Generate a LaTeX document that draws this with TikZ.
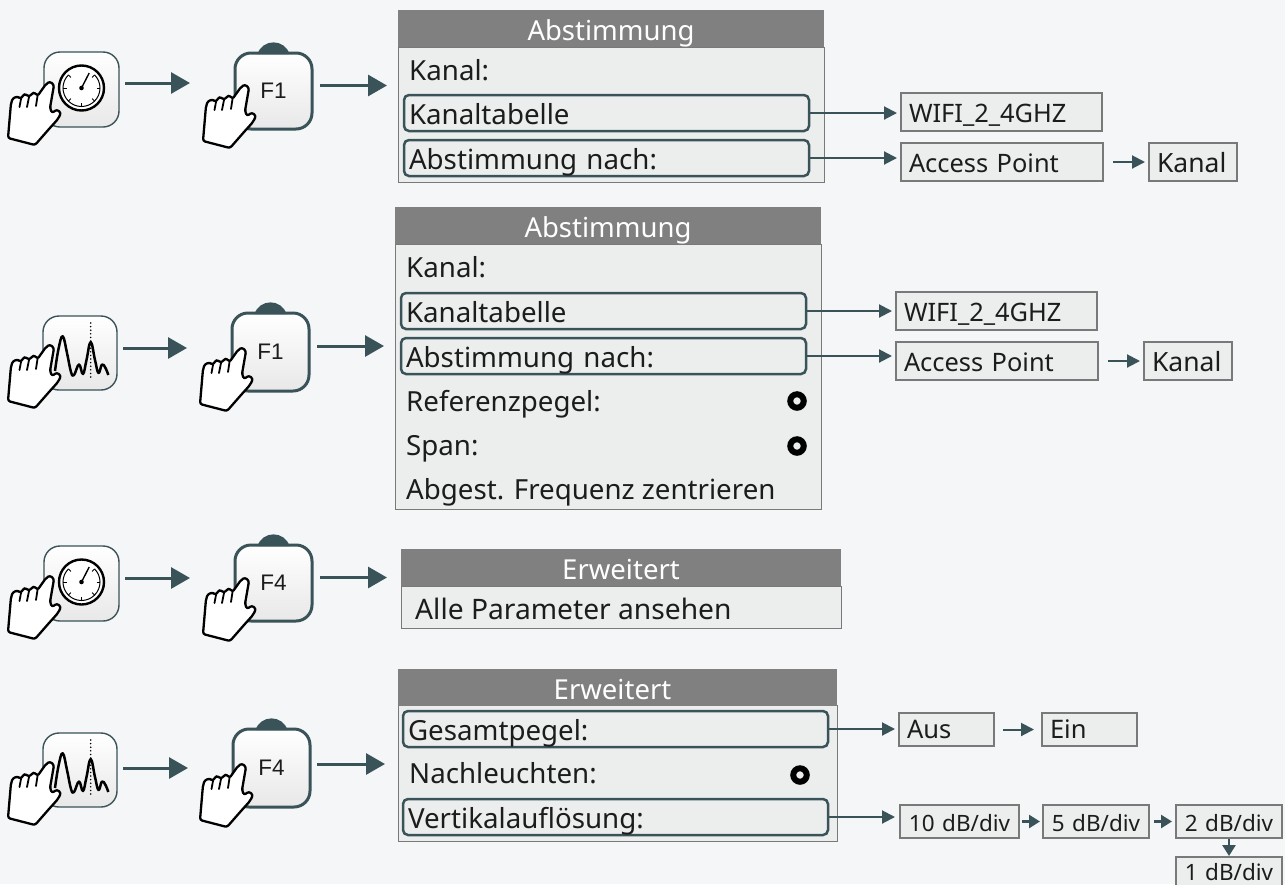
\documentclass[tikz,border=0pt]{standalone}
\usepackage{fontspec}
\setmainfont{Noto Sans}
\newfontfamily\keyfont{Liberation Sans}
\usetikzlibrary{arrows.meta,positioning,calc}
\definecolor{bgc}{HTML}{F4F6F8}
\definecolor{teal}{HTML}{3A5359}
\definecolor{panelc}{HTML}{ECEEEE}
\definecolor{headc}{HTML}{808080}
\definecolor{edgec}{HTML}{787A7A}
\definecolor{inkc}{HTML}{1C1C1C}
\tikzset{
  bigarrow/.style={draw=teal,line width=3pt,-{Triangle[length=19pt,width=21pt]}},
  smallarrow/.style={draw=teal,line width=2pt,-{Triangle[length=13pt,width=13pt]}},
  tinyarrow/.style={draw=teal,line width=2.5pt,-{Triangle[length=11pt,width=13pt]}},
  keybase/.style={anchor=north west,inner sep=0pt,outer sep=0pt,rounded corners=16pt,top color=white,bottom color=white!91!black,draw=teal},
  softkey/.style={keybase,line width=1.4pt,minimum width=75pt,minimum height=75pt},
  hardkey/.style={keybase,line width=3pt,minimum width=77pt,minimum height=76pt,text=inkc,font=\keyfont\fontsize{22.5}{24}\selectfont},
  panelbody/.style={anchor=north west,inner sep=0pt,outer sep=0pt,fill=panelc,draw=edgec,line width=1pt},
  panelhead/.style={anchor=north west,inner sep=0pt,outer sep=0pt,fill=headc,text=white,align=center,text height=30pt,text depth=7pt,font=\fontsize{27.5}{30}\selectfont},
  rowbox/.style={anchor=north west,inner xsep=5pt,inner ysep=0pt,outer sep=0pt,draw=teal,line width=2.5pt,rounded corners=5pt,align=left,text=inkc,text height=29pt,text depth=7pt,font=\fontsize{27.7}{30}\selectfont},
  rowtext/.style={anchor=base west,inner sep=0pt,text=inkc,font=\fontsize{27.7}{30}\selectfont},
  valuebox/.style={anchor=north west,inner xsep=8pt,inner ysep=0pt,outer sep=0pt,fill=panelc,draw=edgec,line width=1.2pt,align=left,text=inkc,text height=29pt,text depth=9pt,font=\fontsize{25.4}{28}\selectfont},
  lowbox/.style={valuebox,text height=25pt,text depth=8pt,font=\fontsize{25.5}{28}\selectfont},
  dbbox/.style={valuebox,inner xsep=3pt,align=center,text height=26pt,text depth=7pt,font=\fontsize{22.5}{24}\selectfont},
  radio/.style={circle,inner sep=0pt,outer sep=0pt,minimum size=13.5pt,draw=black,line width=6pt,fill=panelc}
}
\newcommand{\handat}[2]{%
  \begin{scope}[shift={(#1,#2)}]
    \draw[fill=white,draw=black,line width=2.3pt,rounded corners=2.2pt,line join=round]
      (35,115) -- (8,108) -- (11,73) -- (13,68) -- (18,66.5) -- (21,69) -- (23,65) -- (26,64) -- (29,67) -- (32,63.5) -- (35,62.5) -- (37.5,66) -- (46,54) -- (50,51.5) -- (54,55) -- (50,78) -- (52,83) -- (57,79.5) -- (61,83) -- (58,89) -- (49,99) -- cycle;
    \draw[black,line width=1.8pt,line cap=round] (21,69) -- (19.5,77) (29,67) -- (27,77) (37.5,66) -- (36,76);
  \end{scope}}
\newcommand{\gaugeat}[2]{%
  \begin{scope}[shift={(#1,#2)}]
    \draw[fill=white,draw=black,line width=2.4pt] (0,0) circle[radius=22.5];
    \draw[black,line width=1pt] (225:18.5) arc[start angle=225,end angle=-45,radius=18.5];
    \foreach \a in {225,180,135,90,45,0,-45}{\draw[black,line width=1pt] (\a:18.5) -- (\a:15);}
    \draw[black,line width=1.4pt] (0,0) -- (7.7,-15);
    \fill[black] (0,0) circle[radius=2.3];
  \end{scope}}
\newcommand{\spectrumat}[2]{%
  \begin{scope}[shift={(#1,#2)}]
    \draw[black,line width=1.7pt,line cap=round,dash pattern=on 0pt off 3.6pt] (47.7,7) -- (47.7,64);
    \draw[black,line width=2.5pt,line join=round] plot[smooth,tension=.7] coordinates {(12,55) (15.5,33) (19.7,20.3) (24,37) (28,56) (31,59) (36,48.5) (40,58) (43.5,44) (47.7,26) (52,44) (55.5,57) (59,48.5) (62.5,52) (65.3,59)};
  \end{scope}}
\newcommand{\bumpon}[1]{%
  \fill[teal] ([xshift=-16pt,yshift=-1pt]#1.north) .. controls ([xshift=-11pt,yshift=14.5pt]#1.north) and ([xshift=11pt,yshift=14.5pt]#1.north) .. ([xshift=16pt,yshift=-1pt]#1.north) -- cycle;}
\begin{document}
\begin{tikzpicture}[x=1pt,y=-1pt]
\useasboundingbox (0,0) rectangle (1285,884);
\fill[bgc] (0,0) rectangle (1285,884);
\clip (0,0) rectangle (1285,884);

% ---------- group 1
\node[softkey] (ka) at (44,52) {};
\gaugeat{81.5}{88}
\handat{0}{30}
\node[hardkey] (kb) at (235,53) {F1};
\bumpon{kb}
\handat{195}{33}
\node[panelbody,minimum width=426pt,minimum height=135pt] (pa) at (398,47) {};
\node[panelhead,minimum width=426pt,text width=426pt] (ha) at (398,10) {Abstimmung};
\node[rowtext] (ta) at (409,80) {Kanal:};
\node[rowbox,text width=395pt] (ra) at (404,95) {Kanaltabelle};
\node[rowbox,text width=395pt] (rb) at (404,140) {Abstimmung nach:};
\node[valuebox,text width=185pt] (va) at (901,93) {WIFI\_2\_4GHZ};
\node[valuebox,text width=186pt] (vb) at (901,143) {Access Point};
\node[valuebox,text width=72pt,font=\fontsize{26.5}{28}\selectfont] (vc) at (1149,143) {Kanal};
\draw[bigarrow,shorten <=6pt,shorten >=45pt] ([yshift=6.5pt]ka.east) -- ([yshift=6.5pt]ka.east -| kb.west);
\draw[bigarrow,shorten <=8pt,shorten >=11pt] ([yshift=5.5pt]kb.east) -- ([yshift=5.5pt]kb.east -| pa.west);
\draw[smallarrow,shorten >=4pt] (ra.east) -- (ra.east -| va.west);
\draw[smallarrow,shorten >=4pt] (rb.east) -- (rb.east -| vb.west);
\draw[smallarrow,shorten <=10pt,shorten >=4pt] (vb.east) -- (vc.west);

% ---------- group 2
\node[softkey,minimum width=74pt,minimum height=74pt] (kc) at (43,316) {};
\spectrumat{43}{316}
\handat{0}{293}
\node[hardkey,minimum height=78pt] (kd) at (232,313) {F1};
\bumpon{kd}
\handat{192}{296}
\node[panelbody,minimum width=426pt,minimum height=265pt] (pb) at (395,244) {};
\node[panelhead,minimum width=426pt,text width=426pt] (hb) at (395,207) {Abstimmung};
\node[rowtext] (tb) at (406,277) {Kanal:};
\node[rowbox,text width=395pt] (rc) at (401,293) {Kanaltabelle};
\node[rowbox,text width=395pt] (rd) at (401,338) {Abstimmung nach:};
\node[rowtext] (tc) at (406,411) {Referenzpegel:};
\node[rowtext] (td) at (406,455) {Span:};
\node[rowtext] (te) at (406,499) {Abgest. Frequenz zentrieren};
\node[radio] (oa) at (797,401) {};
\node[radio] (ob) at (797,446) {};
\node[valuebox,text width=185pt] (vd) at (896,292) {WIFI\_2\_4GHZ};
\node[valuebox,text width=186pt] (ve) at (896,342) {Access Point};
\node[valuebox,text width=72pt,font=\fontsize{26.5}{28}\selectfont] (vf) at (1144,342) {Kanal};
\draw[bigarrow,shorten <=6pt,shorten >=45pt] ([yshift=5pt]kc.east) -- ([yshift=5pt]kc.east -| kd.west);
\draw[bigarrow,shorten <=8pt,shorten >=11pt] ([yshift=6pt]kd.east) -- ([yshift=6pt]kd.east -| pb.west);
\draw[smallarrow,shorten >=4pt] (rc.east) -- (rc.east -| vd.west);
\draw[smallarrow,shorten >=4pt] (rd.east) -- (rd.east -| ve.west);
\draw[smallarrow,shorten <=10pt,shorten >=4pt] (ve.east) -- (vf.west);

% ---------- group 3
\node[softkey] (ke) at (44,546) {};
\gaugeat{81.5}{582}
\handat{0}{524}
\node[hardkey] (kf) at (235,545) {F4};
\bumpon{kf}
\handat{195}{526}
\node[panelbody,minimum width=440pt,minimum height=42pt] (pc) at (401,586) {};
\node[panelhead,minimum width=440pt,text width=440pt] (hc) at (401,549) {Erweitert};
\node[rowtext,font=\fontsize{28.2}{30}\selectfont] (tf) at (415,619) {Alle Parameter ansehen};
\draw[bigarrow,shorten <=6pt,shorten >=45pt] ([yshift=5.5pt]ke.east) -- ([yshift=5.5pt]ke.east -| kf.west);
\draw[bigarrow,shorten <=8pt,shorten >=14pt] ([yshift=5.5pt]kf.east) -- ([yshift=5.5pt]kf.east -| pc.west);

% ---------- group 4
\node[softkey,minimum width=74pt,minimum height=74pt] (kg) at (43,733) {};
\spectrumat{43}{733}
\handat{0}{710}
\node[hardkey,minimum height=78pt] (kh) at (233,729) {F4};
\bumpon{kh}
\handat{192}{712}
\node[panelbody,minimum width=439pt,minimum height=136pt] (pd) at (398,705) {};
\node[panelhead,minimum width=439pt,text width=429pt,align=center,inner xsep=0pt,anchor=north west] (hd) at (398,669) {\hspace*{-10pt}Erweitert};
\node[rowbox,text width=415pt] (re) at (403,711) {Gesamtpegel:};
\node[rowtext] (tg) at (409,783) {Nachleuchten:};
\node[radio] (oc) at (800,775) {};
\node[rowbox,text width=415pt] (rf) at (403,799) {Vertikalauflösung:};
\node[lowbox,text width=79pt] (vg) at (899,713) {Aus};
\node[lowbox,text width=79pt] (vh) at (1042,713) {Ein};
\node[dbbox,text width=113pt] (vi) at (900,805) {10 dB/div};
\node[dbbox,text width=100pt] (vj) at (1043,805) {5 dB/div};
\node[dbbox,text width=100pt] (vk) at (1176,805) {2 dB/div};
\node[dbbox,text width=100pt,text height=23pt,text depth=10pt] (vl) at (1176,857) {1 dB/div};
\draw[bigarrow,shorten <=6pt,shorten >=45pt] ([yshift=2pt]kg.east) -- ([yshift=2pt]kg.east -| kh.west);
\draw[bigarrow,shorten <=7pt,shorten >=13pt] ([yshift=4pt]kh.east) -- ([yshift=4pt]kh.east -| pd.west);
\draw[smallarrow,shorten >=4pt] (re.east) -- (re.east -| vg.west);
\draw[smallarrow,shorten >=5pt] (rf.east) -- (rf.east -| vi.west);
\draw[smallarrow,shorten <=9pt,shorten >=8pt] (vg.east) -- (vh.west);
\draw[tinyarrow,shorten <=3pt,shorten >=3pt] (vi.east) -- (vj.west);
\draw[tinyarrow,shorten <=5pt,shorten >=4pt] (vj.east) -- (vk.west);
\draw[tinyarrow,shorten <=1pt,shorten >=1pt] (vk.south) -- (vl.north);
\end{tikzpicture}
\end{document}
